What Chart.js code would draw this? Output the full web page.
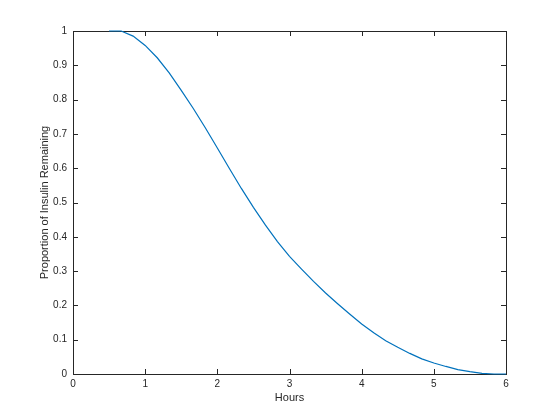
<!DOCTYPE html>
<html>
<head>
<meta charset="utf-8">
<style>
  html, body { margin: 0; padding: 0; background: #fff; }
  #wrap { width: 560px; height: 420px; }
</style>
<script src="https://cdn.jsdelivr.net/npm/chart.js"></script>
</head>
<body>
<div id="wrap"><canvas id="grafico" width="560" height="420"></canvas></div>
<script>
// dados (passos de 10 minutos)
const horas = [0.5, 0.667, 0.833, 1.0, 1.167, 1.333, 1.5, 1.667, 1.833, 2.0,
  2.167, 2.333, 2.5, 2.667, 2.833, 3.0, 3.167, 3.333, 3.5, 3.667, 3.833, 4.0,
  4.167, 4.333, 4.5, 4.667, 4.833, 5.0, 5.167, 5.333, 5.5, 5.667, 5.833, 6.0];
const restante = [1.0, 1.0, 0.985, 0.958, 0.922, 0.878, 0.827, 0.774, 0.718, 0.659,
  0.599, 0.541, 0.486, 0.434, 0.386, 0.343, 0.306, 0.27, 0.236, 0.205, 0.175, 0.146,
  0.12, 0.097, 0.078, 0.06, 0.044, 0.032, 0.022, 0.013, 0.007, 0.002, 0.0, 0.0];

const xTicks = [0, 1, 2, 3, 4, 5, 6];
const yTicks = [0, 0.1, 0.2, 0.3, 0.4, 0.5, 0.6, 0.7, 0.8, 0.9, 1];

const corTexto = '#262626';
const fonte = '"Liberation Sans", Arial, sans-serif';

// caixa com marcas para dentro, como no MATLAB (desenhada antes da curva)
const caixaPlugin = {
  id: 'caixa',
  beforeDatasetsDraw(chart) {
    const ctx = chart.ctx;
    const a = chart.chartArea;
    const xs = chart.scales.x, ys = chart.scales.y;
    ctx.save();
    ctx.strokeStyle = corTexto;
    ctx.lineWidth = 1;
    ctx.beginPath();
    xTicks.forEach(v => {
      const px = Math.round(xs.getPixelForValue(v)) + 0.5;
      ctx.moveTo(px, a.bottom); ctx.lineTo(px, a.bottom - 5);
      ctx.moveTo(px, a.top); ctx.lineTo(px, a.top + 5);
    });
    yTicks.forEach(v => {
      const py = Math.round(ys.getPixelForValue(v)) + 0.5;
      ctx.moveTo(a.left, py); ctx.lineTo(a.left + 5, py);
      ctx.moveTo(a.right, py); ctx.lineTo(a.right - 5, py);
    });
    ctx.stroke();
    ctx.strokeRect(Math.round(a.left) + 0.5, Math.round(a.top) + 0.5,
      Math.round(a.right - a.left), Math.round(a.bottom - a.top));
    ctx.restore();
  }
};

new Chart(document.getElementById('grafico').getContext('2d'), {
  type: 'line',
  data: {
    datasets: [{
      data: horas.map((h, i) => ({ x: h, y: restante[i] })),
      borderColor: '#0072BD',
      borderWidth: 1.2,
      pointRadius: 0,
      tension: 0,
      fill: false,
      clip: false
    }]
  },
  options: {
    responsive: false,
    animation: false,
    layout: { padding: { top: 31, right: 54, left: 38, bottom: 15 } },
    plugins: { legend: { display: false }, tooltip: { enabled: false } },
    scales: {
      x: {
        type: 'linear',
        min: 0, max: 6,
        afterFit(scale) { scale.height = 31; },
        afterBuildTicks(scale) { scale.ticks = xTicks.map(v => ({ value: v })); },
        grid: { display: false, drawTicks: false },
        border: { display: false },
        ticks: { color: corTexto, font: { family: fonte, size: 10 }, padding: 4 },
        title: { display: true, text: 'Hours', color: corTexto,
          font: { family: fonte, size: 11 }, padding: { top: 0, bottom: 0 } }
      },
      y: {
        type: 'linear',
        min: 0, max: 1,
        afterFit(scale) { scale.width = 35; },
        afterBuildTicks(scale) { scale.ticks = yTicks.map(v => ({ value: v })); },
        grid: { display: false, drawTicks: false },
        border: { display: false },
        ticks: { color: corTexto, font: { family: fonte, size: 10 }, padding: 6,
          callback: v => String(v) },
        title: { display: true, text: 'Proportion of Insulin Remaining', color: corTexto,
          font: { family: fonte, size: 11 }, padding: { top: 0, bottom: 0 } }
      }
    }
  },
  plugins: [caixaPlugin]
});
</script>
</body>
</html>
